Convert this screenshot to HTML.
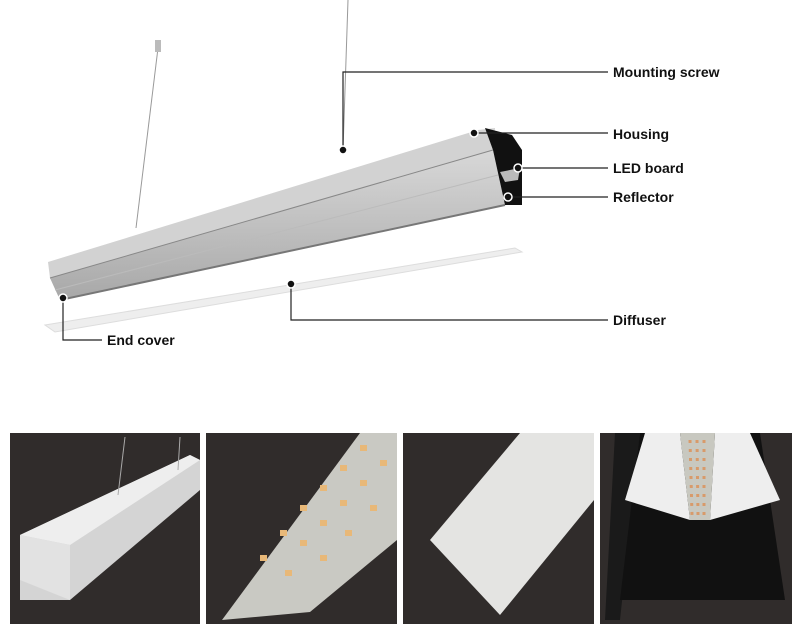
<!DOCTYPE html>
<html><head><style>
body{margin:0;background:#fff;width:800px;height:627px;overflow:hidden;font-family:"Liberation Sans",sans-serif}
</style></head><body>
<svg width="800" height="627" viewBox="0 0 800 627" xmlns="http://www.w3.org/2000/svg">
<defs>
<linearGradient id="g1" x1="0" y1="0" x2="0" y2="1"><stop offset="0" stop-color="#d8d8d8"/><stop offset="1" stop-color="#a8a8a8"/></linearGradient>
</defs>
<rect width="800" height="627" fill="#fff"/>
<line x1="348" y1="0" x2="343" y2="150" stroke="#999" stroke-width="1"/>
<line x1="158" y1="48" x2="136" y2="228" stroke="#999" stroke-width="1"/>
<rect x="155" y="40" width="6" height="12" fill="#bbb"/>
<polygon points="45,325 515,248 522,252 55,332" fill="#eeeeee" stroke="#ddd"/>
<polygon points="48,262 478,130 495,128 493,150 50,278" fill="#d2d2d2"/>
<polygon points="50,278 493,150 505,205 60,300" fill="url(#g1)"/>
<line x1="50" y1="278" x2="493" y2="150" stroke="#888" stroke-width="1"/>
<line x1="55" y1="290" x2="498" y2="175" stroke="#bbb" stroke-width="1"/>
<line x1="60" y1="300" x2="505" y2="205" stroke="#777" stroke-width="2"/>
<polygon points="485,128 512,135 522,150 522,205 505,205 493,150" fill="#111"/>
<polygon points="500,172 520,168 518,180 505,182" fill="#bbb"/>
<g stroke="#222" stroke-width="1.2" fill="none">
<polyline points="343,150 343,72 608,72"/>
<line x1="474" y1="133" x2="608" y2="133"/>
<line x1="518" y1="168" x2="608" y2="168"/>
<line x1="510" y1="197" x2="608" y2="197"/>
<polyline points="291,284 291,320 608,320"/>
<polyline points="63,298 63,340 102,340"/>
</g>
<g fill="#111" stroke="#fff" stroke-width="1.5">
<circle cx="343" cy="150" r="4"/><circle cx="474" cy="133" r="4"/><circle cx="518" cy="168" r="4"/>
<circle cx="508" cy="197" r="4"/><circle cx="291" cy="284" r="4"/><circle cx="63" cy="298" r="4"/>
</g>
<g font-size="14" font-weight="bold" fill="#111">
<text x="613" y="77">Mounting screw</text>
<text x="613" y="139">Housing</text>
<text x="613" y="173">LED board</text>
<text x="613" y="202">Reflector</text>
<text x="613" y="325">Diffuser</text>
<text x="107" y="345">End cover</text>
</g>
<g>
<rect x="10" y="433" width="190" height="191" fill="#302c2b"/>
<polygon points="20,600 70,600 200,490 200,460 190,455 20,535" fill="#d4d4d4"/>
<polygon points="20,535 190,455 200,460 70,545" fill="#eee"/>
<polygon points="20,535 70,545 70,600 20,580" fill="#e2e2e2"/>
<line x1="125" y1="437" x2="118" y2="495" stroke="#aaa"/><line x1="180" y1="437" x2="178" y2="470" stroke="#aaa"/>

<rect x="206" y="433" width="191" height="191" fill="#302c2b"/>
<polygon points="222,620 360,433 397,433 397,540 310,612" fill="#c9c9c3"/>
<g fill="#e8b878">
<rect x="260" y="555" width="7" height="6"/><rect x="285" y="570" width="7" height="6"/><rect x="300" y="540" width="7" height="6"/><rect x="320" y="520" width="7" height="6"/>
<rect x="280" y="530" width="7" height="6"/><rect x="300" y="505" width="7" height="6"/><rect x="320" y="485" width="7" height="6"/><rect x="340" y="465" width="7" height="6"/><rect x="360" y="445" width="7" height="6"/>
<rect x="340" y="500" width="7" height="6"/><rect x="360" y="480" width="7" height="6"/><rect x="380" y="460" width="7" height="6"/><rect x="320" y="555" width="7" height="6"/><rect x="345" y="530" width="7" height="6"/><rect x="370" y="505" width="7" height="6"/>
</g>

<rect x="403" y="433" width="191" height="191" fill="#302c2b"/>
<polygon points="430,540 520,433 594,433 594,500 500,615" fill="#e4e4e2"/>

<rect x="600" y="433" width="192" height="191" fill="#302c2b"/>
<polygon points="615,433 640,433 620,620 605,620" fill="#1a1a1a"/>
<polygon points="640,433 760,433 785,600 620,600" fill="#111"/>
<polygon points="645,433 680,433 690,520 625,500" fill="#eee"/>
<polygon points="715,433 750,433 780,500 710,520" fill="#eee"/>
<polygon points="680,433 715,433 710,520 690,520" fill="#c8c8c0"/>
<g stroke="#d89a6a" stroke-width="3" stroke-dasharray="3 6"><line x1="690" y1="440" x2="692" y2="515"/><line x1="697" y1="440" x2="698" y2="515"/><line x1="704" y1="440" x2="704" y2="515"/></g>
</g>
</svg>
</body></html>
